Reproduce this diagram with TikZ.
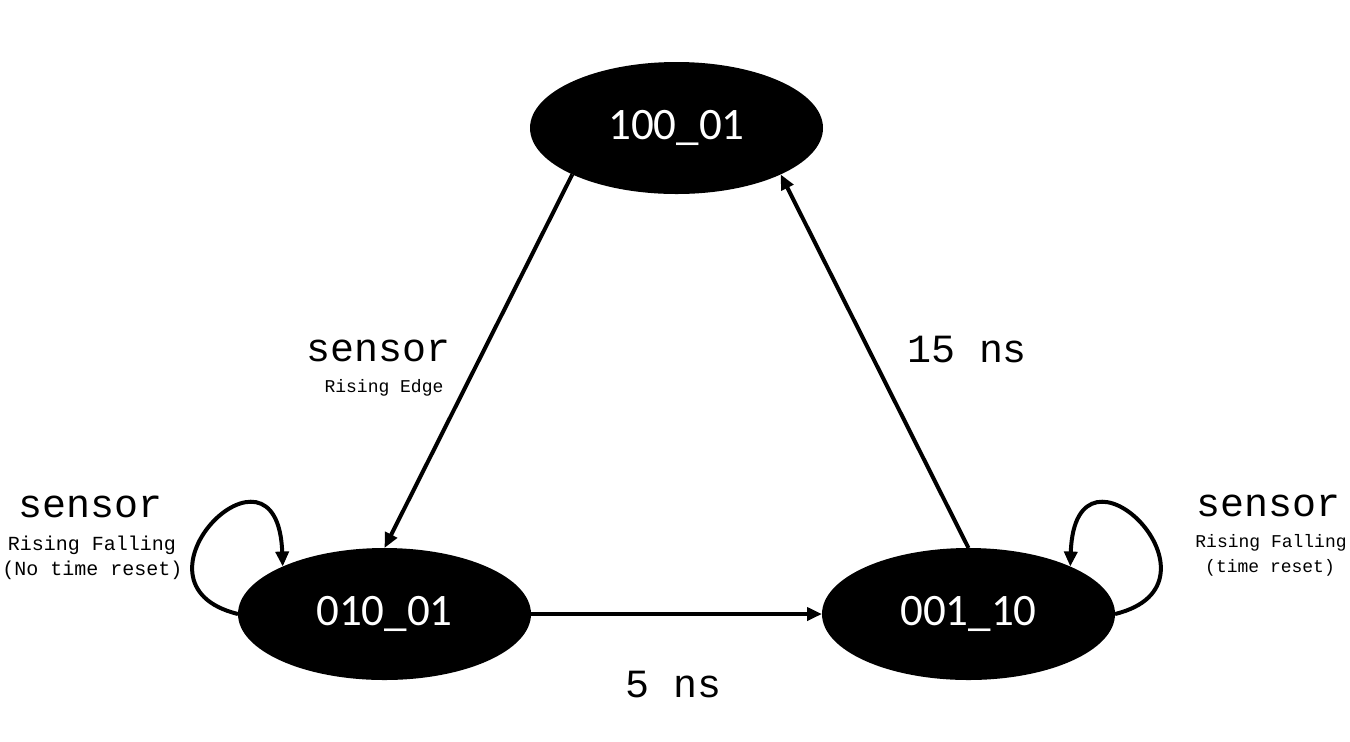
\documentclass[tikz,border=0pt]{standalone}
\usepackage{fontspec}
\setmonofont{Liberation Mono}
\newfontfamily\statefont{Carlito}
\usetikzlibrary{shapes.geometric,arrows.meta}

\tikzset{
  state/.style={ellipse, fill=black, text=white, minimum width=146.5pt, minimum height=66pt, inner sep=0pt, outer sep=0pt, font=\statefont\fontsize{22.5}{26}\selectfont},
  trans/.style={line width=2pt, -{Triangle[length=7.5pt,width=6.5pt]}},
  biglbl/.style={anchor=base, inner sep=0pt, font=\ttfamily\fontsize{20}{24}\selectfont},
  smalllbl/.style={anchor=base, inner sep=0pt, font=\ttfamily\fontsize{9}{11}\selectfont}
}

\begin{document}
\begin{tikzpicture}[x=0.5pt,y=0.5pt,yscale=-1]
\useasboundingbox (0,0) rectangle (1350,741);

\draw (676.5,128) node (s100) [state] {\raisebox{-1.5pt}{100\_01}};
\draw (384.5,614) node (s010) [state] {\raisebox{-1.5pt}{010\_01}};
\draw (968.5,614) node (s001) [state] {\raisebox{-1.5pt}{001\_10}};

\draw [trans] (s100.204) -- (s010.north);
\draw [trans] (s010.east) -- (s001.west);
\draw [trans] (s001.north) -- (s100.-24);

\draw [trans] (s010.west) .. controls +(-123,-30) and +(-5,-146) .. (s010.155);
\draw [trans] (s001.east) .. controls +(123,-30) and +(5,-146) .. (s001.25);

\draw (379,361) node (edgeA) [biglbl] {sensor};
\draw (384,392) node (edgeB) [smalllbl] {Rising Edge};
\draw (967,362) node (t15) [biglbl] {15 ns};
\draw (674,697) node (t5) [biglbl] {5 ns};

\draw (90.5,517) node (loopA) [biglbl] {sensor};
\draw (92,550) node (loopB) [smalllbl, font=\ttfamily\fontsize{10}{12}\selectfont] {Rising Falling};
\draw (92.5,575) node (loopC) [smalllbl, font=\ttfamily\fontsize{10}{12}\selectfont] {(No time reset)};

\draw (1268,516) node (loopD) [biglbl] {sensor};
\draw (1271,547) node (loopE) [smalllbl] {Rising Falling};
\draw (1270,572) node (loopF) [smalllbl] {(time reset)};
\end{tikzpicture}
\end{document}
